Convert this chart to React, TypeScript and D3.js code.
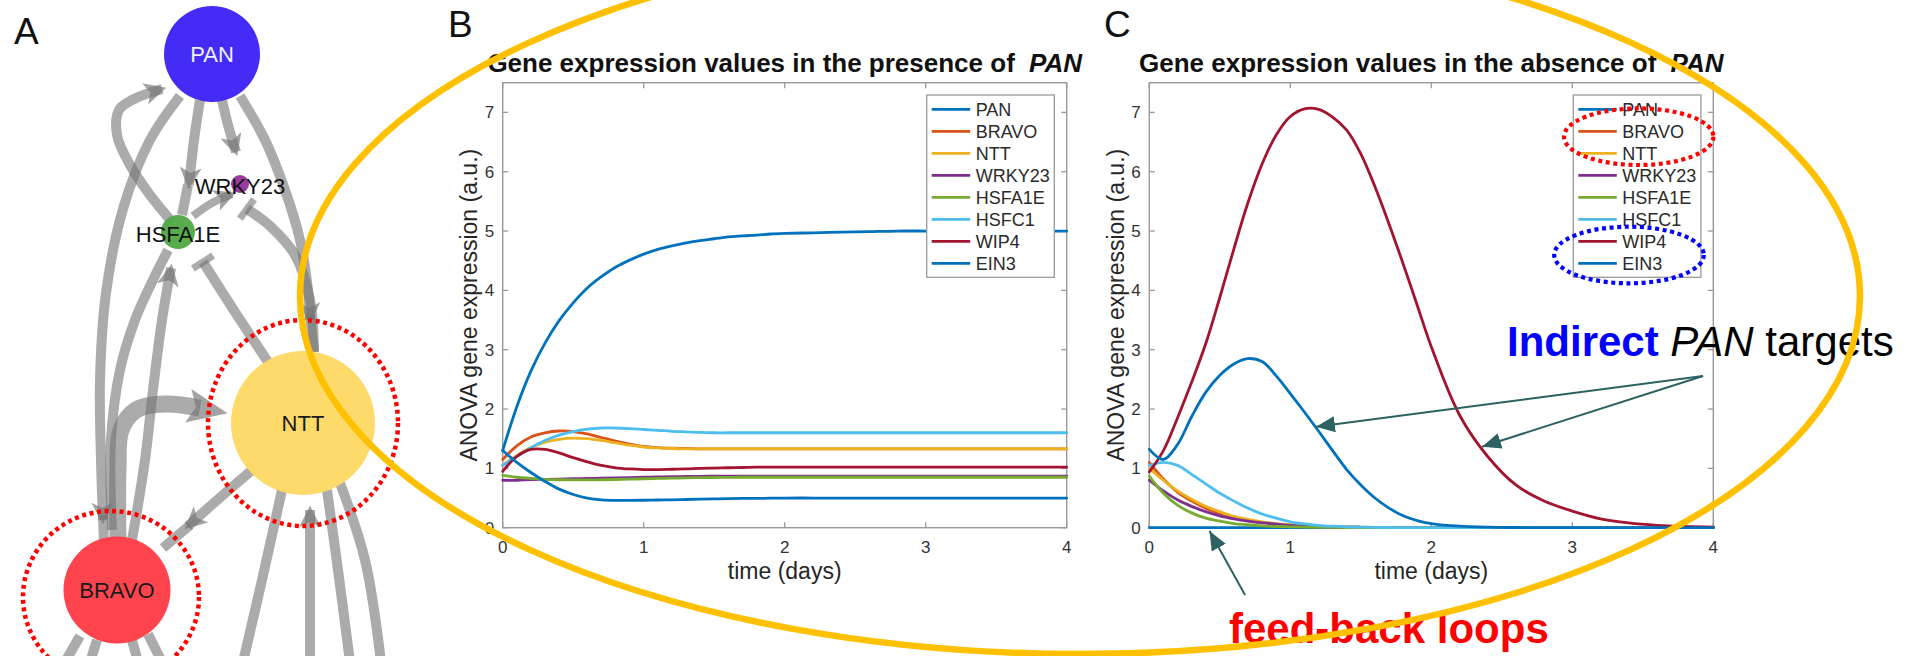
import React from "react";
import * as d3 from "d3";

// ---------------- DATA ----------------
const TIME_DAYS = [0, 0.1, 0.2, 0.3, 0.4, 0.5, 0.6, 0.7, 0.8, 0.9, 1.0, 1.1, 1.2, 1.3, 1.4, 1.5, 1.6, 1.7, 1.8, 1.9, 2.0, 2.2, 2.4, 2.6, 2.8, 3.0, 3.2, 3.4, 3.6, 3.8, 4.0];
const GENES = ["PAN", "BRAVO", "NTT", "WRKY23", "HSFA1E", "HSFC1", "WIP4", "EIN3"];
const GENE_COLORS = ["#0072BD", "#D95319", "#EDB120", "#7E2F8E", "#77AC30", "#4DBEEE", "#A2142F", "#0072BD"];
const X_TICKS = [0, 1, 2, 3, 4];
const Y_TICKS = [0, 1, 2, 3, 4, 5, 6, 7];

// Panel B: presence of PAN
const B_PAN = [1.3, 2.04, 2.64, 3.11, 3.49, 3.79, 4.04, 4.23, 4.39, 4.51, 4.61, 4.69, 4.75, 4.8, 4.84, 4.87, 4.9, 4.92, 4.93, 4.95, 4.96, 4.97, 4.98, 4.99, 5, 5, 5, 5, 5, 5, 5];
const B_BRAVO = [1.15, 1.38, 1.53, 1.6, 1.63, 1.62, 1.58, 1.52, 1.46, 1.41, 1.37, 1.35, 1.34, 1.335, 1.33, 1.33, 1.33, 1.33, 1.33, 1.33, 1.33, 1.33, 1.33, 1.33, 1.33, 1.33, 1.33, 1.33, 1.33, 1.33, 1.33];
const B_NTT = [1.05, 1.22, 1.35, 1.44, 1.49, 1.51, 1.5, 1.47, 1.43, 1.39, 1.36, 1.345, 1.335, 1.33, 1.33, 1.33, 1.33, 1.33, 1.33, 1.33, 1.33, 1.33, 1.33, 1.33, 1.33, 1.33, 1.33, 1.33, 1.33, 1.33, 1.33];
const B_WRKY23 = [0.8, 0.8, 0.81, 0.815, 0.82, 0.825, 0.83, 0.835, 0.84, 0.845, 0.85, 0.855, 0.86, 0.863, 0.866, 0.868, 0.87, 0.87, 0.87, 0.87, 0.87, 0.87, 0.87, 0.87, 0.87, 0.87, 0.87, 0.87, 0.87, 0.87, 0.87];
const B_HSFA1E = [0.88, 0.85, 0.83, 0.815, 0.808, 0.805, 0.805, 0.808, 0.812, 0.818, 0.825, 0.83, 0.835, 0.84, 0.843, 0.846, 0.848, 0.85, 0.85, 0.85, 0.85, 0.85, 0.85, 0.85, 0.85, 0.85, 0.85, 0.85, 0.85, 0.85, 0.85];
const B_HSFC1 = [1.05, 1.2, 1.35, 1.47, 1.56, 1.62, 1.66, 1.68, 1.68, 1.67, 1.655, 1.64, 1.625, 1.615, 1.605, 1.6, 1.6, 1.6, 1.6, 1.6, 1.6, 1.6, 1.6, 1.6, 1.6, 1.6, 1.6, 1.6, 1.6, 1.6, 1.6];
const B_WIP4 = [0.95, 1.2, 1.32, 1.32, 1.26, 1.18, 1.11, 1.05, 1.01, 0.99, 0.98, 0.98, 0.985, 0.99, 1.0, 1.005, 1.01, 1.015, 1.02, 1.02, 1.02, 1.02, 1.02, 1.02, 1.02, 1.02, 1.02, 1.02, 1.02, 1.02, 1.02];
const B_EIN3 = [1.3, 1.1, 0.93, 0.78, 0.65, 0.56, 0.5, 0.47, 0.46, 0.46, 0.463, 0.467, 0.47, 0.475, 0.48, 0.485, 0.49, 0.493, 0.495, 0.497, 0.5, 0.5, 0.5, 0.5, 0.5, 0.5, 0.5, 0.5, 0.5, 0.5, 0.5];

// Panel C: absence of PAN
const C_PAN = [0, 0, 0, 0, 0, 0, 0, 0, 0, 0, 0, 0, 0, 0, 0, 0, 0, 0, 0, 0, 0, 0, 0, 0, 0, 0, 0, 0, 0, 0, 0];
const C_BRAVO = [1.1, 0.82, 0.6, 0.45, 0.33, 0.24, 0.17, 0.12, 0.09, 0.06, 0.04, 0.03, 0.02, 0.015, 0.01, 0.007, 0.005, 0.003, 0.002, 0.001, 0, 0, 0, 0, 0, 0, 0, 0, 0, 0, 0];
const C_NTT = [1.0, 0.8, 0.62, 0.48, 0.36, 0.27, 0.19, 0.14, 0.1, 0.07, 0.05, 0.035, 0.025, 0.017, 0.012, 0.008, 0.005, 0.003, 0.002, 0.001, 0, 0, 0, 0, 0, 0, 0, 0, 0, 0, 0];
const C_WRKY23 = [0.8, 0.62, 0.47, 0.36, 0.27, 0.2, 0.15, 0.11, 0.08, 0.06, 0.04, 0.03, 0.02, 0.014, 0.01, 0.007, 0.005, 0.003, 0.002, 0.001, 0, 0, 0, 0, 0, 0, 0, 0, 0, 0, 0];
const C_HSFA1E = [0.87, 0.58, 0.38, 0.25, 0.16, 0.11, 0.07, 0.05, 0.03, 0.02, 0.015, 0.01, 0.006, 0.004, 0.002, 0.001, 0, 0, 0, 0, 0, 0, 0, 0, 0, 0, 0, 0, 0, 0, 0];
const C_HSFC1 = [1.05, 1.1, 1.05, 0.9, 0.74, 0.58, 0.45, 0.33, 0.23, 0.16, 0.1, 0.065, 0.04, 0.025, 0.015, 0.01, 0.005, 0.003, 0.002, 0.001, 0, 0, 0, 0, 0, 0, 0, 0, 0, 0, 0];
const C_WIP4 = [0.94, 1.3, 1.85, 2.45, 3.1, 3.88, 4.7, 5.48, 6.13, 6.62, 6.93, 7.06, 7.05, 6.92, 6.7, 6.3, 5.75, 5.12, 4.45, 3.75, 3.05, 1.9, 1.2, 0.72, 0.45, 0.28, 0.15, 0.08, 0.04, 0.02, 0.01];
const C_EIN3 = [1.32, 1.15, 1.4, 1.87, 2.28, 2.57, 2.76, 2.85, 2.8, 2.56, 2.26, 1.95, 1.63, 1.3, 0.98, 0.72, 0.5, 0.33, 0.2, 0.12, 0.07, 0.025, 0.008, 0.003, 0.001, 0, 0, 0, 0, 0, 0];

const PRESENCE = [B_PAN, B_BRAVO, B_NTT, B_WRKY23, B_HSFA1E, B_HSFC1, B_WIP4, B_EIN3];
const ABSENCE = [C_PAN, C_BRAVO, C_NTT, C_WRKY23, C_HSFA1E, C_HSFC1, C_WIP4, C_EIN3];

// annotation anchors in data units of panel C (time, value)
const ANNOT_ORIGIN = [3.927, 2.557];
const ANNOT_TARGETS = [[1.182, 1.702], [2.36, 1.365]];
const FEEDBACK_ARROW = [[0.679, -1.134], [0.427, -0.056]];

// network (panel A)
const NET_NODES = [
  { id: "PAN", cx: 212, cy: 54, r: 48, fill: "#3a20f5", label: "PAN", color: "#eef0ff", ly: 62 },
  { id: "WRKY23", cx: 240, cy: 184, r: 9, fill: "#94309a", label: "WRKY23", color: "#111", ly: 194 },
  { id: "HSFA1E", cx: 178, cy: 232, r: 17, fill: "#4fa845", label: "HSFA1E", color: "#111", ly: 242 },
  { id: "NTT", cx: 303, cy: 423, r: 72, fill: "#fdd862", label: "NTT", color: "#1a1a1a", ly: 431 },
  { id: "BRAVO", cx: 117, cy: 590, r: 53.5, fill: "#ff3a45", label: "BRAVO", color: "#1a1a1a", ly: 598 },
];
const NET_EDGES = [
  { pts: [[180, 96], [150, 140], [123, 209], [106, 293], [100, 380], [101, 460], [103, 520]], end: "arrow", w: 10 },
  { pts: [[103, 515], [104, 545]], end: "none", w: 10 },
  { pts: [[132, 540], [145, 460], [153, 390], [162, 320], [171, 268]], end: "arrow", w: 10 },
  { pts: [[112, 530], [111, 440], [120, 370], [135, 320], [152, 282], [168, 250]], end: "none", w: 10 },
  { pts: [[200, 100], [194, 140], [189, 185]], end: "arrow", w: 10 },
  { pts: [[188, 185], [182, 215]], end: "none", w: 10 },
  { pts: [[222, 100], [228, 125], [236, 152]], end: "arrow", w: 10 },
  { pts: [[193, 216], [212, 203], [232, 194]], end: "arrow", w: 8 },
  { pts: [[314, 352], [310, 300], [295, 255], [270, 226], [247, 209]], end: "tee", w: 10 },
  { pts: [[268, 362], [235, 312], [203, 262]], end: "tee", w: 10 },
  { pts: [[172, 222], [150, 195], [130, 165], [117, 135], [119, 110], [134, 99], [162, 89]], end: "arrow", w: 10 },
  { pts: [[240, 96], [265, 140], [285, 190], [300, 240], [308, 290], [310, 320]], end: "arrow", w: 10 },
  { pts: [[310, 315], [314, 352]], end: "none", w: 10 },
  { pts: [[118, 540], [118, 470], [121, 430], [136, 410], [165, 404], [200, 408]], end: "big", w: 17 },
  { pts: [[252, 470], [215, 502], [188, 526]], end: "arrow", w: 10 },
  { pts: [[190, 525], [163, 548]], end: "none", w: 10 },
  { pts: [[282, 490], [262, 580], [243, 662]], end: "none", w: 10 },
  { pts: [[310, 662], [310, 580], [310, 510]], end: "arrow", w: 10 },
  { pts: [[327, 490], [338, 570], [350, 662]], end: "none", w: 10 },
  { pts: [[340, 483], [365, 560], [381, 662]], end: "none", w: 10 },
  { pts: [[80, 636], [65, 662]], end: "none", w: 10 },
  { pts: [[97, 640], [90, 662]], end: "none", w: 10 },
  { pts: [[132, 640], [138, 662]], end: "none", w: 10 },
  { pts: [[148, 634], [162, 662]], end: "none", w: 10 },
];

// ---------------- LAYOUT ----------------
const FONT = '"Liberation Sans", Arial, Helvetica, sans-serif';
const PLOT_TOP = 82.7;
const PLOT_BOTTOM = 527.7;
const PLOT_W = 564;
const B_LEFT = 502.7;
const C_LEFT = 1149.3;

const yScale = d3.scaleLinear().domain([0, 7.5]).range([PLOT_BOTTOM, PLOT_TOP]);

function Panel({ left, title, data }: { left: number; title: string; data: number[][] }) {
  const x = d3.scaleLinear().domain([0, 4]).range([left, left + PLOT_W]);
  const right = left + PLOT_W;
  const cx = (left + right) / 2;
  const line = d3
    .line<number>()
    .x((_, i) => x(TIME_DAYS[i]))
    .y((d) => yScale(d))
    .curve(d3.curveCatmullRom.alpha(0.5));
  const axisCol = "#9a9a9a";
  const lx = right - 140;
  return (
    <g>
      <rect x={left} y={PLOT_TOP} width={PLOT_W} height={PLOT_BOTTOM - PLOT_TOP} fill="#fff" stroke={axisCol} strokeWidth={1.4} />
      {X_TICKS.map((t) => (
        <g key={"xt" + t}>
          <line x1={x(t)} x2={x(t)} y1={PLOT_BOTTOM} y2={PLOT_BOTTOM - 5.5} stroke={axisCol} strokeWidth={1.3} />
          <line x1={x(t)} x2={x(t)} y1={PLOT_TOP} y2={PLOT_TOP + 5.5} stroke={axisCol} strokeWidth={1.3} />
          <text x={x(t)} y={552.5} fontSize={17} textAnchor="middle" fill="#333">{t}</text>
        </g>
      ))}
      {Y_TICKS.map((v) => (
        <g key={"yt" + v}>
          <line x1={left} x2={left + 5.5} y1={yScale(v)} y2={yScale(v)} stroke={axisCol} strokeWidth={1.3} />
          <line x1={right} x2={right - 5.5} y1={yScale(v)} y2={yScale(v)} stroke={axisCol} strokeWidth={1.3} />
          <text x={left - 8.5} y={yScale(v) + 6} fontSize={17} textAnchor="end" fill="#333">{v}</text>
        </g>
      ))}
      {data.map((s, i) => (
        <path key={GENES[i]} d={line(s) || ""} fill="none" stroke={GENE_COLORS[i]} strokeWidth={2.8} strokeLinejoin="round" strokeLinecap="round" />
      ))}
      <text x={cx} y={579} fontSize={23} textAnchor="middle" fill="#262626">time (days)</text>
      <text transform={`translate(${left - 25.7},${(PLOT_TOP + PLOT_BOTTOM) / 2}) rotate(-90)`} fontSize={23} textAnchor="middle" fill="#262626">
        ANOVA gene expression (a.u.)
      </text>
      <text x={cx} y={72} fontSize={26} fontWeight="bold" textAnchor="middle" fill="#111">
        {title + " "}
        <tspan dx={7} fontStyle="italic">PAN</tspan>
      </text>
      <rect x={lx} y={95} width={127.6} height={182.3} fill="#fff" stroke={axisCol} strokeWidth={1.3} />
      {GENES.map((g, i) => (
        <g key={"lg" + g}>
          <line x1={lx + 5} x2={lx + 43.5} y1={109.3 + i * 22} y2={109.3 + i * 22} stroke={GENE_COLORS[i]} strokeWidth={2.8} />
          <text x={lx + 49} y={109.3 + i * 22 + 6.4} fontSize={18} fill="#2a2a2a">{g}</text>
        </g>
      ))}
    </g>
  );
}

const edgeLine = d3.line<number[]>().x((d) => d[0]).y((d) => d[1]).curve(d3.curveCatmullRom.alpha(0.5));

function teeBar(pts: number[][]) {
  const a = pts[pts.length - 2];
  const b = pts[pts.length - 1];
  const dx = b[0] - a[0];
  const dy = b[1] - a[1];
  const len = Math.hypot(dx, dy) || 1;
  const px = -dy / len;
  const py = dx / len;
  const h = 12;
  return `M${b[0] - px * h},${b[1] - py * h}L${b[0] + px * h},${b[1] + py * h}`;
}

export default function App() {
  const xC = d3.scaleLinear().domain([0, 4]).range([C_LEFT, C_LEFT + PLOT_W]);
  const teal = "#2e6262";
  const edgeCol = "rgba(115,115,115,0.6)";
  const cLegendLeft = C_LEFT + PLOT_W - 140;
  return (
    <div style={{ position: "fixed", left: 0, top: 0 }}>
      <svg width={1916} height={656} style={{ display: "block", background: "#fff" }} fontFamily={FONT}>
        <defs>
          <marker id="grayHead" viewBox="0 0 10 10" refX="8" refY="5" markerWidth="22" markerHeight="22" markerUnits="userSpaceOnUse" orient="auto" preserveAspectRatio="none">
            <path d="M0,0 L10,5 L0,10 L2.5,5 z" fill="rgba(115,115,115,0.65)" />
          </marker>
          <marker id="grayHeadBig" viewBox="0 0 10 10" refX="3" refY="5" markerWidth="40" markerHeight="34" markerUnits="userSpaceOnUse" orient="auto" preserveAspectRatio="none">
            <path d="M0,0 L10,5 L0,10 L2,5 z" fill="rgba(115,115,115,0.65)" />
          </marker>
          <marker id="tealHead" viewBox="0 0 10 10" refX="10" refY="5" markerWidth="19" markerHeight="16" markerUnits="userSpaceOnUse" orient="auto" preserveAspectRatio="none">
            <path d="M0,0 L10,5 L0,10 z" fill={teal} />
          </marker>
        </defs>

        {/* Panel A network */}
        <g>
          {NET_EDGES.map((e, i) => (
            <g key={"e" + i}>
              <path
                d={edgeLine(e.pts) || ""}
                fill="none"
                stroke={edgeCol}
                strokeWidth={e.w}
                markerEnd={e.end === "arrow" ? "url(#grayHead)" : e.end === "big" ? "url(#grayHeadBig)" : undefined}
              />
              {e.end === "tee" && <path d={teeBar(e.pts)} stroke={edgeCol} strokeWidth={7} fill="none" />}
            </g>
          ))}
          {NET_NODES.map((n) => (
            <g key={n.id}>
              <circle cx={n.cx} cy={n.cy} r={n.r} fill={n.fill} fillOpacity={0.95} />
              <text x={n.cx} y={n.ly} fontSize={22} textAnchor="middle" fill={n.color}>{n.label}</text>
            </g>
          ))}
          <ellipse cx={303} cy={423} rx={95} ry={103} fill="none" stroke="#ff0000" strokeWidth={4.5} strokeDasharray="4 3.6" />
          <ellipse cx={111} cy={597} rx={88} ry={86} fill="none" stroke="#ff0000" strokeWidth={4.5} strokeDasharray="4 3.6" />
        </g>

        <Panel left={B_LEFT} title="Gene expression values in the presence of" data={PRESENCE} />
        <Panel left={C_LEFT} title="Gene expression values in the absence of" data={ABSENCE} />

        {/* legend highlights in C */}
        <ellipse cx={cLegendLeft + 65.4} cy={136.7} rx={74.7} ry={28.3} fill="none" stroke="#ff0000" strokeWidth={4.2} strokeDasharray="4 3.6" />
        <ellipse cx={cLegendLeft + 55.7} cy={255} rx={74.8} ry={28.3} fill="none" stroke="#0000ff" strokeWidth={4.2} strokeDasharray="4 3.6" />

        {/* annotations */}
        {ANNOT_TARGETS.map((t, i) => (
          <line key={"an" + i} x1={xC(ANNOT_ORIGIN[0])} y1={yScale(ANNOT_ORIGIN[1])} x2={xC(t[0])} y2={yScale(t[1])} stroke={teal} strokeWidth={2} markerEnd="url(#tealHead)" />
        ))}
        <line x1={xC(FEEDBACK_ARROW[0][0])} y1={yScale(FEEDBACK_ARROW[0][1])} x2={xC(FEEDBACK_ARROW[1][0])} y2={yScale(FEEDBACK_ARROW[1][1])} stroke={teal} strokeWidth={2} markerEnd="url(#tealHead)" />
        <text x={1507} y={356} fontSize={42} fill="#000">
          <tspan fill="#0000ff" fontWeight="bold">Indirect</tspan>
          <tspan fontStyle="italic"> PAN</tspan>
          <tspan> targets</tspan>
        </text>
        <text x={1229} y={643} fontSize={42} fontWeight="bold" fill="#ff0000">feed-back loops</text>

        {/* panel letters */}
        <text x={14} y={44} fontSize={37} fill="#111">A</text>
        <text x={448} y={37} fontSize={37} fill="#111">B</text>
        <text x={1104} y={37} fontSize={37} fill="#111">C</text>

        {/* highlight ellipse */}
        <ellipse cx={1080} cy={296} rx={780} ry={358} fill="none" stroke="#ffc000" strokeWidth={6.5} />
      </svg>
    </div>
  );
}
